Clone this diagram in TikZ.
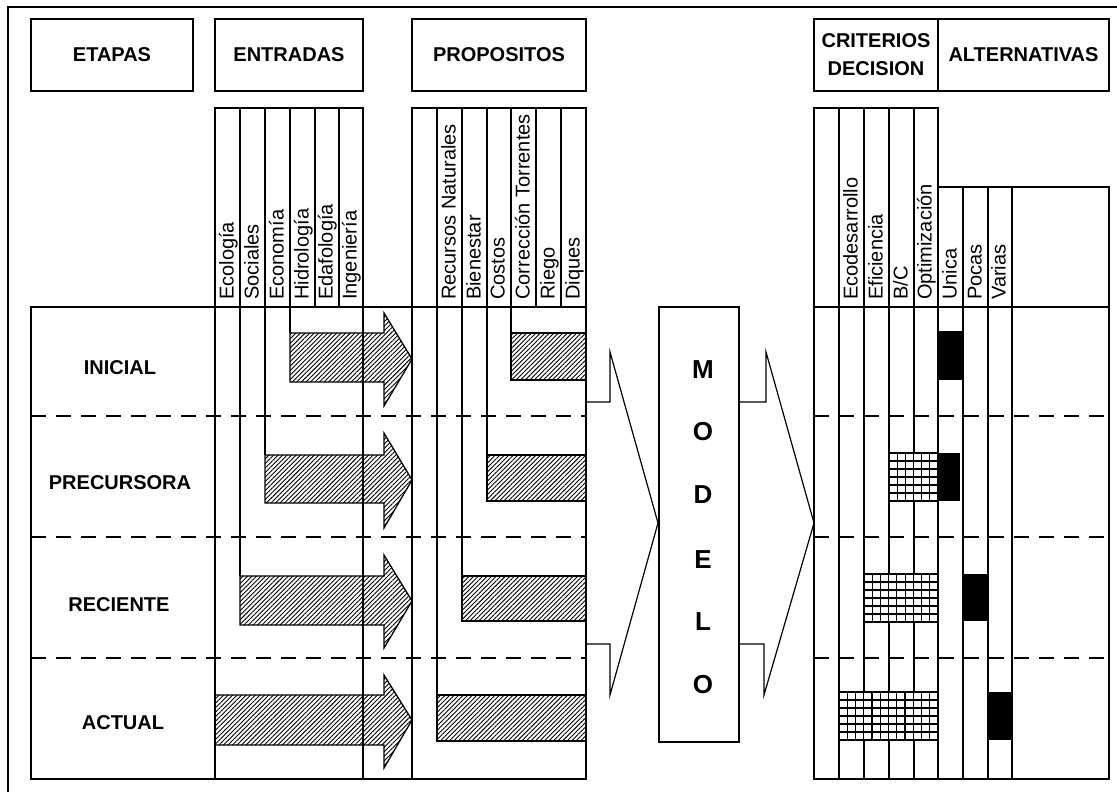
\documentclass[tikz,border=0pt]{standalone}
\usepackage{fontspec}
\setmainfont{Liberation Sans}
\usetikzlibrary{patterns.meta}
\begin{document}
\begin{tikzpicture}[x=1pt,y=-1pt,
  ln/.style={line width=1.3pt},
  dln/.style={line width=1.3pt, dash pattern=on 15pt off 10pt},
  hdr/.style={draw, line width=1.3pt, font=\fontsize{20}{28}\selectfont\bfseries, align=center, inner sep=0pt},
  vlab/.style={rotate=90, anchor=base west, inner sep=0pt, font=\fontsize{20}{24}\selectfont},
  rowlab/.style={font=\fontsize{20}{24}\selectfont\bfseries, inner sep=0pt},
  modlab/.style={font=\fontsize{26}{30}\selectfont\bfseries, inner sep=0pt},
  hatch/.style={draw, line width=1.3pt, pattern={Lines[angle=45,distance=3.2pt,line width=0.9pt]}},
  gl/.style={line width=1.1pt},
  bigarrow/.style={line width=1.2pt, line join=miter}
]
\useasboundingbox (0,0) rectangle (1117,792);
\fill[white] (0,0) rectangle (1117,792);
% outer frame
\draw[ln] (8,792) -- (8,7) -- (1117,7);

% header boxes
\node[hdr, minimum width=162pt, minimum height=72pt] (etapas) at (112,55) {ETAPAS};
\node[hdr, minimum width=148pt, minimum height=72pt] (entradas) at (289,55) {ENTRADAS};
\node[hdr, minimum width=174pt, minimum height=72pt] (propositos) at (499,55) {PROPOSITOS};
\node[hdr, minimum width=124pt, minimum height=72pt] (criterios) at (876,55) {CRITERIOS\\DECISION};
\node[hdr, minimum width=171pt, minimum height=72pt] (alternativas) at (1023.5,55) {ALTERNATIVAS};

% column headers
\draw[ln] (215,108) rectangle (363,307);
\foreach \x in {240,265,290,315,339} \draw[ln] (\x,108) -- (\x,307);
\draw[ln] (412,108) rectangle (586,307);
\foreach \x in {437,462,487,511,536,561} \draw[ln] (\x,108) -- (\x,307);
\draw[ln] (814,108) rectangle (938,307);
\foreach \x in {839,864,889,914} \draw[ln] (\x,108) -- (\x,307);
\draw[ln] (938,187) rectangle (1109,307);
\foreach \x in {963,988,1012} \draw[ln] (\x,187) -- (\x,307);

% vertical labels
\node[vlab] (l1) at (233.5,300) {Ecología};
\node[vlab] (l2) at (258.5,300) {Sociales};
\node[vlab] (l3) at (283.5,300) {Economía};
\node[vlab] (l4) at (308.5,300) {Hidrología};
\node[vlab] (l5) at (332.5,300) {Edafología};
\node[vlab] (l6) at (356.5,300) {Ingeniería};
\node[vlab] (p1) at (455.5,300) {Recursos Naturales};
\node[vlab] (p2) at (480.5,300) {Bienestar};
\node[vlab] (p3) at (504.5,300) {Costos};
\node[vlab] (p4) at (529.5,300) {Corrección Torrentes};
\node[vlab] (p5) at (554.5,300) {Riego};
\node[vlab] (p6) at (579.5,300) {Diques};
\node[vlab] (c1) at (857.5,300) {Ecodesarrollo};
\node[vlab] (c2) at (882.5,300) {Eficiencia};
\node[vlab] (c3) at (907.5,300) {B/C};
\node[vlab] (c4) at (931.5,300) {Optimización};
\node[vlab] (a1) at (956.5,300) {Unica};
\node[vlab] (a2) at (981.5,300) {Pocas};
\node[vlab] (a3) at (1005.5,300) {Varias};

% left body
\foreach \y in {416,537,658} \draw[dln] (31,\y) -- (586,\y);
\draw[ln] (31,307) rectangle (586,779);
\foreach \x in {215,363,412} \draw[ln] (\x,307) -- (\x,779);
\draw[ln] (240,307) -- (240,576);
\draw[ln] (265,307) -- (265,455);
\draw[ln] (290,307) -- (290,333);
\draw[ln] (437,307) -- (437,695);
\draw[ln] (462,307) -- (462,576);
\draw[ln] (487,307) -- (487,455);
\draw[ln] (511,307) -- (511,333);

% hatched arrows (entradas)
\draw[hatch] (290,333) -- (384,333) -- (384,313) -- (412,359) -- (384,406) -- (384,382) -- (290,382) -- cycle;
\draw[hatch] (265,455) -- (384,455) -- (384,433) -- (412,480) -- (384,528) -- (384,503) -- (265,503) -- cycle;
\draw[hatch] (240,576) -- (384,576) -- (384,555) -- (412,601) -- (384,648) -- (384,625) -- (240,625) -- cycle;
\draw[hatch] (215,695) -- (384,695) -- (384,675) -- (412,720) -- (384,768) -- (384,745) -- (215,745) -- cycle;
% hatched bars (propositos)
\draw[hatch] (511,333) rectangle (586,380);
\draw[hatch] (487,455) rectangle (586,501);
\draw[hatch] (462,576) rectangle (586,621);
\draw[hatch] (437,695) rectangle (586,741);

% row labels
\node[rowlab] (inicial) at (120,368) {INICIAL};
\node[rowlab] (precursora) at (120,483) {PRECURSORA};
\node[rowlab] (reciente) at (119,605) {RECIENTE};
\node[rowlab] (actual) at (123,723) {ACTUAL};

% modelo
\node[draw, line width=1.3pt, minimum width=80pt, minimum height=435pt, inner sep=0pt] (modelo) at (699,524.5) {};
\node[modlab] (m1) at (703,370) {M};
\node[modlab] (m2) at (703,432) {O};
\node[modlab] (m3) at (703,495) {D};
\node[modlab] (m4) at (703,560) {E};
\node[modlab] (m5) at (703,622) {L};
\node[modlab] (m6) at (703,685) {O};

% big arrows
\draw[bigarrow] (586,402) -- (610,402) -- (610,352) -- (658,523) -- (610,695) -- (610,644) -- (586,644);
\draw[bigarrow] (739,402) -- (766,402) -- (766,352) -- (814,523) -- (764,695) -- (764,644) -- (739,644);

% right body
\foreach \y in {416,537,658} \draw[dln] (814,\y) -- (1109,\y);
\draw[ln] (814,307) rectangle (1109,779);
\foreach \x in {839,864,889,914,938,963,988,1012} \draw[ln] (\x,307) -- (\x,779);

% grids
\newcommand{\gridbox}[5]{%
  \fill[white] (#1,#2) rectangle (#3,#4);
  \foreach \k in {0,...,#5} \draw[gl] ({#1+\k*(#3-#1)/#5},#2) -- ({#1+\k*(#3-#1)/#5},#4);
  \foreach \k in {0,...,6} \draw[gl] (#1,{#2+\k*(#4-#2)/6}) -- (#3,{#2+\k*(#4-#2)/6});
}
\gridbox{889}{453}{938}{501}{6}
\gridbox{864}{574}{938}{622}{9}
\gridbox{839}{692}{938}{740}{12}

% black blocks
\fill (938,331) rectangle (963,380);
\fill (938,453) rectangle (960,501);
\fill (963,574) rectangle (988,621);
\fill (988,692) rectangle (1012,740);
\end{tikzpicture}
\end{document}
